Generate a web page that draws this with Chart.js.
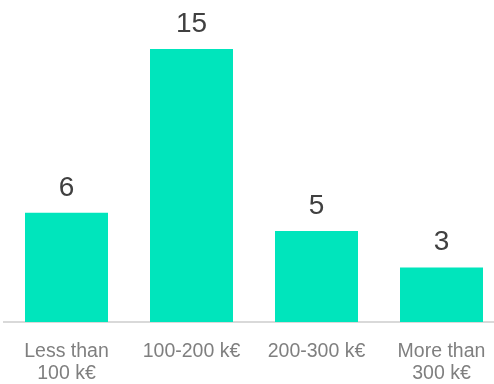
<!DOCTYPE html>
<html>
<head>
<meta charset="utf-8">
<script src="https://cdn.jsdelivr.net/npm/chart.js@4/dist/chart.umd.min.js"></script>
<style>
  html, body { margin: 0; padding: 0; background: #fff; overflow: hidden; }
  #wrap { width: 494px; height: 384px; overflow: hidden; }
</style>
</head>
<body>
<div id="wrap"><canvas id="chart" width="510" height="384"></canvas></div>
<script>
var categories = [['Less than', '100 k€'], '100-200 k€', '200-300 k€', ['More than', '300 k€']];
var counts = [6, 15, 5, 3];
var fontFamily = '"Liberation Sans", Arial, sans-serif';

// value labels above each bar
var valueLabels = {
    id: 'valueLabels',
    afterDatasetsDraw: function(chart) {
        var ctx = chart.ctx;
        var meta = chart.getDatasetMeta(0);
        ctx.save();
        ctx.font = '28px ' + fontFamily;
        ctx.fillStyle = '#404040';
        ctx.textAlign = 'center';
        ctx.textBaseline = 'alphabetic';
        meta.data.forEach(function(bar, i) {
            ctx.fillText(String(counts[i]), bar.x, bar.y - 17);
        });
        ctx.restore();
    }
};

new Chart(document.getElementById('chart'), {
    type: 'bar',
    data: {
        labels: categories,
        datasets: [{
            data: counts,
            backgroundColor: '#00e5bc',
            borderWidth: 0,
            categoryPercentage: 1,
            barPercentage: 0.664
        }]
    },
    options: {
        responsive: false,
        animation: false,
        layout: { padding: { top: 49, left: 4, right: 6, bottom: 0 } },
        plugins: { legend: { display: false }, tooltip: { enabled: false } },
        scales: {
            x: {
                grid: { display: false, drawTicks: false },
                border: { display: true, color: '#d9d9d9', width: 2 },
                ticks: {
                    color: '#7f7f7f',
                    font: { family: fontFamily, size: 19.5, lineHeight: 1.12 },
                    padding: 19,
                    maxRotation: 0,
                    autoSkip: false
                },
                afterFit: function(scale) { scale.height = 62; }
            },
            y: {
                display: false,
                min: 0,
                max: 15
            }
        }
    },
    plugins: [valueLabels]
});
</script>
</body>
</html>
